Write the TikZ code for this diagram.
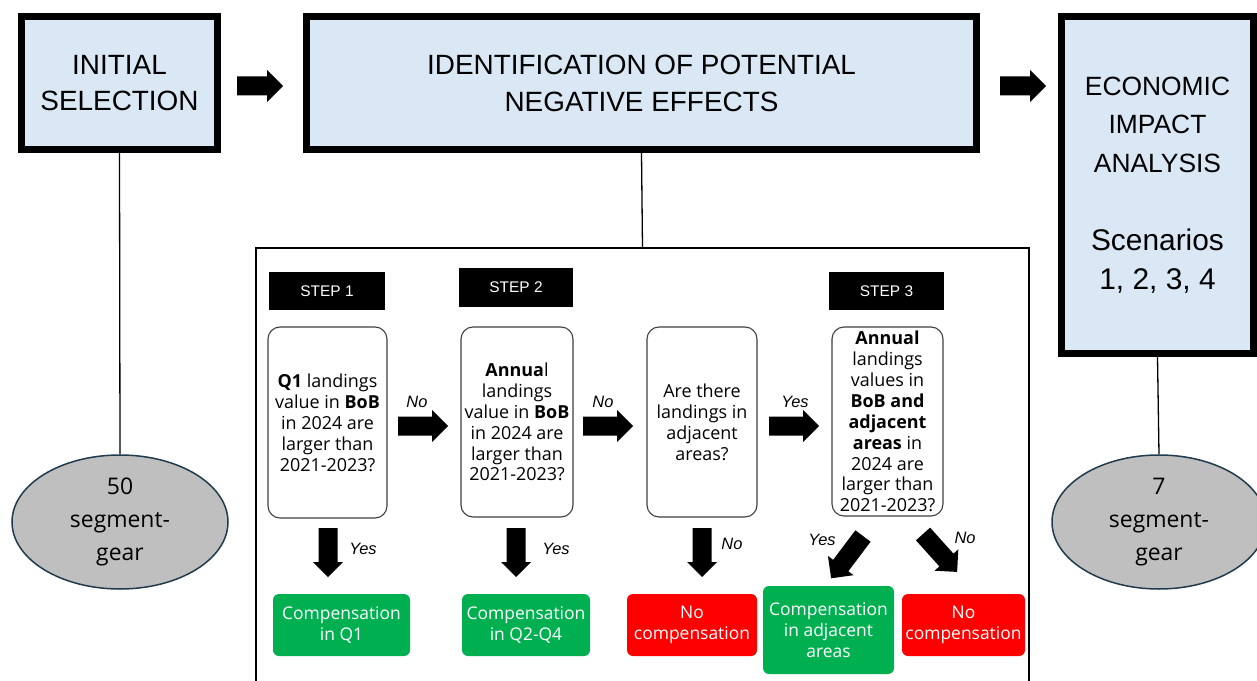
\documentclass[tikz,border=0pt]{standalone}
\usepackage{fontspec}
\setmainfont{Liberation Sans}
\newfontfamily\noto{Open Sans}
\usetikzlibrary{shapes.geometric}
\definecolor{boxblue}{HTML}{DAE8F5}
\definecolor{ellgray}{HTML}{BFBFBF}
\definecolor{ellline}{HTML}{1F3B4D}
\definecolor{okgreen}{HTML}{00B050}
\definecolor{nored}{HTML}{FF0000}
\newcommand\blockarrow[5]{% start, angle, length, shaft length, head half width
  \fill[black, shift={#1}, rotate=#2] (0,-9.5) -- (#4,-9.5) -- (#4,-#5) -- (#3,0) -- (#4,#5) -- (#4,9.5) -- (0,9.5) -- cycle;}
\newcommand\scn{\fontsize{30}{39}\selectfont}
\tikzset{
  mainbox/.style={draw=black, line width=7bp, fill=boxblue, inner sep=0pt, align=center,
    font=\fontsize{28}{37}\selectfont},
  countell/.style={ellipse, draw=ellline, line width=1.5bp, fill=ellgray, inner sep=0pt,
    minimum width=216bp, minimum height=134bp, align=center, font=\noto\fontsize{23}{33}\selectfont},
  frame/.style={draw=black, line width=2bp, inner sep=0pt},
  stepbox/.style={fill=black, text=white, inner sep=0pt, minimum height=38bp,
    font=\fontsize{15.5}{18}\selectfont},
  qbox/.style={draw=black!75, line width=1.1bp, rounded corners=12bp, inner sep=0pt, align=center,
    font=\noto\fontsize{18}{21}\selectfont},
  resbox/.style={text=white, rounded corners=6bp, inner sep=0pt, align=center,
    font=\noto\fontsize{17.5}{21}\selectfont},
  lbl/.style={inner sep=0pt, font=\itshape\fontsize{16.5}{20}\selectfont},
  link/.style={draw=black, line width=1.3bp}
}
\begin{document}
\begin{tikzpicture}[x=1bp, y=-1bp]
\useasboundingbox (0,0) rectangle (1257,681);
\clip (0,0) rectangle (1257,681);
\fill[white] (0,0) rectangle (1257,681);

% main stages
\node[mainbox, minimum width=196bp, minimum height=133bp] (init) at (119.5,83) {INITIAL\\SELECTION};
\node[mainbox, minimum width=670bp, minimum height=133bp] (ident) at (641.5,83) {IDENTIFICATION OF POTENTIAL\\NEGATIVE EFFECTS};
\node[mainbox, minimum width=192bp, minimum height=337bp, font=\fontsize{26.5}{39}\selectfont] (econ) at (1157.5,185)
  {ECONOMIC\\IMPACT\\ANALYSIS\\[39bp]\scn Scenarios\\\scn 1, 2, 3, 4};

\blockarrow{(237,86)}{0}{46}{30}{16}
\blockarrow{(1000,86)}{0}{46}{30}{16}

% counts
\node[countell] (ell1) at (120,522) {50\\segment-\\gear};
\node[countell, minimum width=214bp] (ell2) at (1159,522) {7\\segment-\\gear};
\draw[link] (init.south) -- (ell1.north);
\draw[link] (econ.south) -- (ell2.north);

% detail frame
\node[frame, minimum width=773bp, minimum height=452bp] (frm) at (642.5,474) {};
\draw[link] (ident.south) -- (frm.north);

% steps
\node[stepbox, minimum width=116bp] (s1) at (327,291) {STEP 1};
\node[stepbox, minimum width=114bp, minimum height=39bp] (s2) at (516,287.5) {STEP 2};
\node[stepbox, minimum width=115bp] (s3) at (886.5,291) {STEP 3};

% questions
\node[qbox, minimum width=119bp, minimum height=191bp] (q1) at (327.5,422.5)
  {\textbf{Q1} landings\\value in \textbf{BoB}\\in 2024 are\\larger than\\2021-2023?};
\node[qbox, minimum width=112bp, minimum height=190bp] (q2) at (517,422)
  {\textbf{Annua}l\\landings\\value in \textbf{BoB}\\in 2024 are\\larger than\\2021-2023?};
\node[qbox, minimum width=110bp, minimum height=190bp] (q3) at (702,422)
  {Are there\\landings in\\adjacent\\areas?};
\node[qbox, minimum width=111bp, minimum height=189bp] (q4) at (887.5,421.5)
  {\textbf{Annual}\\landings\\values in\\\textbf{BoB and}\\\textbf{adjacent}\\\textbf{areas} in\\2024 are\\larger than\\2021-2023?};

% horizontal arrows
\blockarrow{(398,426)}{0}{50}{34}{16}
\blockarrow{(583,426)}{0}{50}{34}{16}
\blockarrow{(769,426)}{0}{50}{34}{16}
\node[lbl] (l1) at (417,402) {No};
\node[lbl] (l2) at (603,402) {No};
\node[lbl] (l3) at (795,402) {Yes};

% downward arrows
\blockarrow{(328,528)}{-90}{49}{34}{15}
\blockarrow{(516,528)}{-90}{49}{34}{15}
\blockarrow{(702,528)}{-90}{49}{34}{15}
\blockarrow{(863,536)}{-127}{53}{37}{16}
\blockarrow{(923,534)}{-48}{51}{35}{16}
\node[lbl] (l4) at (363,549) {Yes};
\node[lbl] (l5) at (556,549) {Yes};
\node[lbl] (l6) at (732,544) {No};
\node[lbl] (l7) at (822,540) {Yes};
\node[lbl] (l8) at (965,538) {No};

% results
\node[resbox, fill=okgreen, minimum width=137bp, minimum height=62bp] (r1) at (341.5,625) {Compensation\\in Q1};
\node[resbox, fill=okgreen, minimum width=128bp, minimum height=62bp] (r2) at (526,625) {Compensation\\in Q2-Q4};
\node[resbox, fill=nored, minimum width=130bp, minimum height=62bp] (r3) at (692,625) {No\\compensation};
\node[resbox, fill=okgreen, minimum width=131bp, minimum height=88bp] (r4) at (828.5,630) {Compensation\\in adjacent\\areas};
\node[resbox, fill=nored, minimum width=123bp, minimum height=62bp] (r5) at (963.5,625) {No\\compensation};
\end{tikzpicture}
\end{document}
